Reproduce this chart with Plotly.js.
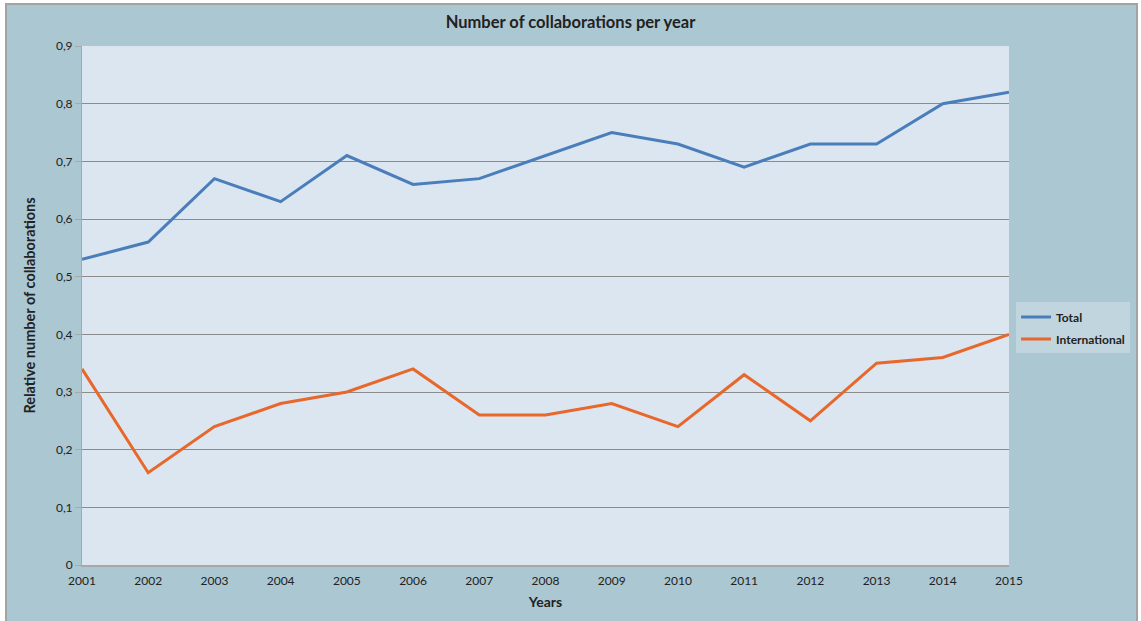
<!DOCTYPE html>
<html>
<head>
<meta charset="utf-8">
<script src="https://cdn.plot.ly/plotly-3.0.1.min.js"></script>
<style>
html,body{margin:0;padding:0;background:#ffffff;}
#wrap{position:relative;width:1141px;height:621px;overflow:hidden;background:#fff;}
#bg{position:absolute;left:5px;top:3px;width:1129px;height:620px;background:#abc7d1;border-left:2px solid #a3a3a3;border-top:2px solid #a3a3a3;border-right:2px solid #a3a3a3;}
#chart{position:absolute;left:0;top:0;width:1141px;height:621px;}
</style>
</head>
<body>
<div id="wrap"><div id="bg"></div><div id="chart"></div></div>
<script>
const years = [2001,2002,2003,2004,2005,2006,2007,2008,2009,2010,2011,2012,2013,2014,2015];
const total = [0.53,0.56,0.67,0.63,0.71,0.66,0.67,0.71,0.75,0.73,0.69,0.73,0.73,0.80,0.82];
const international = [0.34,0.16,0.24,0.28,0.30,0.34,0.26,0.26,0.28,0.24,0.33,0.25,0.35,0.36,0.40];
const yTicks = [0,0.1,0.2,0.3,0.4,0.5,0.6,0.7,0.8,0.9];
const yTickText = ['0','0,1','0,2','0,3','0,4','0,5','0,6','0,7','0,8','0,9'];

const font = 'Lato, "Open Sans", sans-serif';
const traces = [
  {x: years, y: total, name: 'Total', legendgroup: 'a', mode: 'lines', line: {color: '#4a7ebb', width: 3}},
  {x: years, y: international, name: 'International', legendgroup: 'b', mode: 'lines', line: {color: '#e8672a', width: 3}}
];
const layout = {
  width: 1141, height: 621,
  paper_bgcolor: 'rgba(0,0,0,0)',
  plot_bgcolor: '#dce6f1',
  margin: {l: 82, r: 132, t: 46, b: 56, autoexpand: false},
  font: {family: font, color: '#222', size: 12},
  title: {text: '<b>Number of collaborations per year</b>', xref: 'container', x: 0.5, xanchor: 'center', y: 0.965, yanchor: 'middle', font: {size: 16.5, family: font, color: '#222'}},
  xaxis: {
    range: [2001, 2015], tickvals: years, ticktext: years.map(String),
    showgrid: false, zeroline: false, showline: true, linecolor: '#a8a8a8', linewidth: 2,
    ticks: '', ticklabelstandoff: 4, tickfont: {size: 12, family: font, color: '#222'},
    title: {text: '<b>Years</b>', font: {size: 14, family: font, color: '#222'}, standoff: 10}
  },
  yaxis: {
    range: [0, 0.9], tickvals: yTicks, ticktext: yTickText,
    showgrid: true, gridcolor: '#8c8c8c', gridwidth: 1, zeroline: false,
    showline: true, linecolor: '#a8a8a8', linewidth: 1,
    ticks: 'outside', ticklen: 6, tickcolor: '#a8a8a8',
    tickfont: {size: 12, family: font, color: '#222'},
    title: {text: '<b>Relative number of collaborations</b>', font: {size: 14.5, family: font, color: '#222'}, standoff: 16}
  },
  legend: {
    xref: 'container', yref: 'container',
    x: 0.8905, xanchor: 'left', y: 0.472, yanchor: 'middle',
    bgcolor: '#c0d5dd', borderwidth: 0,
    font: {size: 12, family: font, color: '#222', weight: 'bold'},
    tracegroupgap: 3, itemwidth: 30
  },
  showlegend: true
};
Plotly.newPlot('chart', traces, layout, {displayModeBar: false, staticPlot: true});
</script>
</body>
</html>
